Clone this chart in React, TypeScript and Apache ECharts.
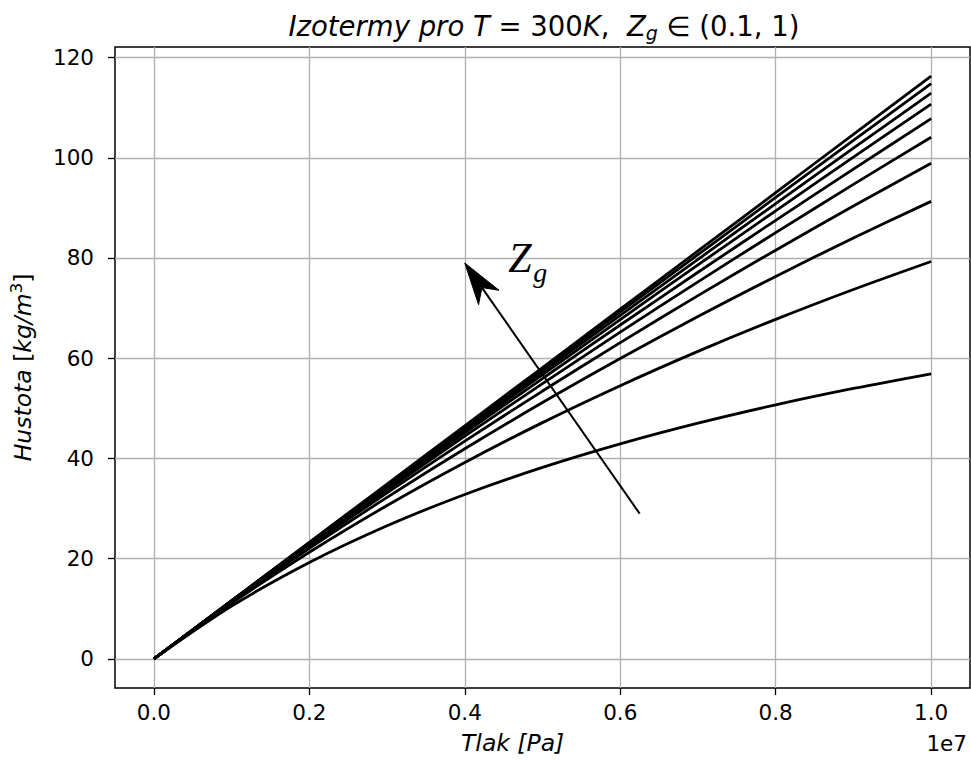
import React, { useEffect, useRef } from "react";
import * as echarts from "echarts";

// Pressure [Pa]
const pressure = [0, 1e6, 2e6, 3e6, 4e6, 5e6, 6e6, 7e6, 8e6, 9e6, 1e7];

// Density [kg/m^3] for each isotherm
const rho1 = [0, 11.63, 23.26, 34.89, 46.52, 58.15, 69.78, 81.41, 93.04, 104.67, 116.3];
const rho2 = [0, 11.62, 23.2, 34.75, 46.28, 57.77, 69.24, 80.67, 92.08, 103.45, 114.8];
const rho3 = [0, 11.6, 23.12, 34.58, 45.97, 57.29, 68.54, 79.73, 90.85, 101.91, 112.9];
const rho4 = [0, 11.57, 23.03, 34.37, 45.6, 56.72, 67.72, 78.63, 89.42, 100.11, 110.7];
const rho5 = [0, 11.54, 22.9, 34.08, 45.1, 55.95, 66.63, 77.15, 87.52, 97.74, 107.8];
const rho6 = [0, 11.5, 22.73, 33.71, 44.44, 54.93, 65.2, 75.24, 85.06, 94.68, 104.1];
const rho7 = [0, 11.43, 22.47, 33.14, 43.46, 53.45, 63.12, 72.49, 81.56, 90.37, 98.9];
const rho8 = [0, 11.32, 22.05, 32.24, 41.93, 51.15, 59.93, 68.32, 76.32, 83.98, 91.3];
const rho9 = [0, 11.11, 21.28, 30.61, 39.2, 47.15, 54.52, 61.37, 67.75, 73.71, 79.3];
const rho10 = [0, 10.53, 19.24, 26.57, 32.82, 38.21, 42.91, 47.04, 50.7, 53.97, 56.9];

const curves = [rho1, rho2, rho3, rho4, rho5, rho6, rho7, rho8, rho9, rho10];

// Axis ticks
const xTicks = [0, 2e6, 4e6, 6e6, 8e6, 1e7];
const yTicks = [0, 20, 40, 60, 80, 100, 120];

// Arrow annotation: tail (x, y), head (x, y); label anchor (x, y)
const arrow = [6.25e6, 29, 4.0e6, 79];
const zLabelAt = [4.56e6, 79.9];

const FONT = "DejaVu Sans";
const FS = 21.5;
const FS_LABEL = 23.5;
const FS_TITLE = 27.5;

export default function App() {
  const ref = useRef<HTMLDivElement>(null);

  useEffect(() => {
    if (!ref.current) return;
    const chart = echarts.init(ref.current, null, { renderer: "svg" });

    const series: any[] = curves.map((c, i) => ({
      type: "line",
      name: "c" + i,
      data: pressure.map((p, k) => [p, c[k]]),
      showSymbol: false,
      smooth: 0.3,
      lineStyle: { color: "#000", width: 2.8 },
      z: 3,
    }));

    series.push({
      type: "custom",
      silent: true,
      z: 5,
      data: [[...arrow, ...zLabelAt]],
      encode: { x: [0, 2], y: [1, 3] },
      renderItem: (params: any, api: any) => {
        const t = api.coord([api.value(0), api.value(1)]);
        const h = api.coord([api.value(2), api.value(3)]);
        const z = api.coord([api.value(4), api.value(5)]);
        const dx = h[0] - t[0];
        const dy = h[1] - t[1];
        const len = Math.sqrt(dx * dx + dy * dy);
        const ux = dx / len;
        const uy = dy / len;
        const nx = -uy;
        const ny = ux;
        const L = 42;
        const W = 12.5;
        const N = 30;
        const c1 = [h[0] - L * ux + W * nx, h[1] - L * uy + W * ny];
        const c2 = [h[0] - L * ux - W * nx, h[1] - L * uy - W * ny];
        const nt = [h[0] - N * ux, h[1] - N * uy];
        return {
          type: "group",
          children: [
            {
              type: "line",
              shape: { x1: t[0], y1: t[1], x2: nt[0], y2: nt[1] },
              style: { stroke: "#000", lineWidth: 2 },
            },
            {
              type: "polygon",
              shape: { points: [h, c1, nt, c2] },
              style: { fill: "#000", stroke: "#000", lineWidth: 1, lineJoin: "miter" },
            },
            {
              type: "text",
              x: z[0],
              y: z[1],
              style: {
                text: "Z",
                font: 'italic 42px "Liberation Serif"',
                fill: "#000",
                align: "left",
                verticalAlign: "middle",
              },
            },
            {
              type: "text",
              x: z[0] + 25,
              y: z[1] + 14,
              style: {
                text: "g",
                font: 'italic 28px "Liberation Serif"',
                fill: "#000",
                align: "left",
                verticalAlign: "middle",
              },
            },
          ],
        };
      },
    });

    chart.setOption({
      animation: false,
      title: {
        left: 539,
        top: 5,
        textAlign: "center",
        text: "{i|Izotermy pro T}{n| = 300}{i|K}{n|,  }{i|Z}{s|g}{n| ∈ (0.1, 1)}",
        textStyle: {
          fontWeight: "normal",
          fontFamily: FONT,
          fontSize: FS_TITLE,
          color: "#000",
          rich: {
            i: { fontFamily: FONT, fontStyle: "italic", fontWeight: "normal", fontSize: FS_TITLE, color: "#000" },
            n: { fontFamily: FONT, fontWeight: "normal", fontSize: FS_TITLE, color: "#000" },
            s: {
              fontFamily: FONT,
              fontStyle: "italic",
              fontWeight: "normal",
              fontSize: 19,
              color: "#000",
              padding: [13, 0, 0, 0],
            },
          },
        },
      },
      grid: {
        left: 115,
        right: 1,
        top: 47,
        bottom: 72,
        show: true,
        borderColor: "#000",
        borderWidth: 1.5,
        backgroundColor: "transparent",
      },
      xAxis: {
        type: "value",
        min: -5e5,
        max: 1.05e7,
        axisLine: { show: false, onZero: false },
        axisTick: {
          show: true,
          inside: false,
          length: 7,
          lineStyle: { color: "#000", width: 1.3 },
          customValues: xTicks,
        },
        axisLabel: {
          customValues: xTicks,
          formatter: (v: number) => (v / 1e7).toFixed(1),
          fontFamily: FONT,
          fontSize: FS,
          color: "#000",
          margin: 13,
        },
        splitLine: { show: true, lineStyle: { color: "#b0b0b0", width: 1.3 } },
      },
      yAxis: {
        type: "value",
        min: -5.8,
        max: 122.1,
        axisLine: { show: false, onZero: false },
        axisTick: {
          show: true,
          inside: false,
          length: 7,
          lineStyle: { color: "#000", width: 1.3 },
          customValues: yTicks,
        },
        axisLabel: {
          customValues: yTicks,
          fontFamily: FONT,
          fontSize: FS,
          color: "#000",
          margin: 21,
        },
        splitLine: { show: true, lineStyle: { color: "#b0b0b0", width: 1.3 } },
        name: "{i|Hustota} [{i|kg/m}{s|3}]",
        nameLocation: "middle",
        nameRotate: 90,
        nameGap: 77,
        nameTextStyle: {
          fontFamily: FONT,
          fontSize: FS_LABEL,
          color: "#000",
          rich: {
            i: { fontFamily: FONT, fontStyle: "italic", fontSize: FS_LABEL, color: "#000" },
            s: { fontFamily: FONT, fontSize: 16.5, color: "#000", padding: [0, 0, 13, 0] },
          },
        },
      },
      graphic: [
        {
          type: "text",
          left: 461,
          top: 731,
          style: {
            text: "Tlak [Pa]",
            font: `italic ${FS_LABEL}px "${FONT}"`,
            fill: "#000",
          },
        },
        {
          type: "text",
          right: 4,
          top: 732,
          style: {
            text: "1e7",
            font: `${FS}px "${FONT}"`,
            fill: "#000",
          },
        },
      ],
      series,
    });

    return () => chart.dispose();
  }, []);

  return <div ref={ref} style={{ width: 971, height: 760, position: "absolute", left: 0, top: 0 }} />;
}
